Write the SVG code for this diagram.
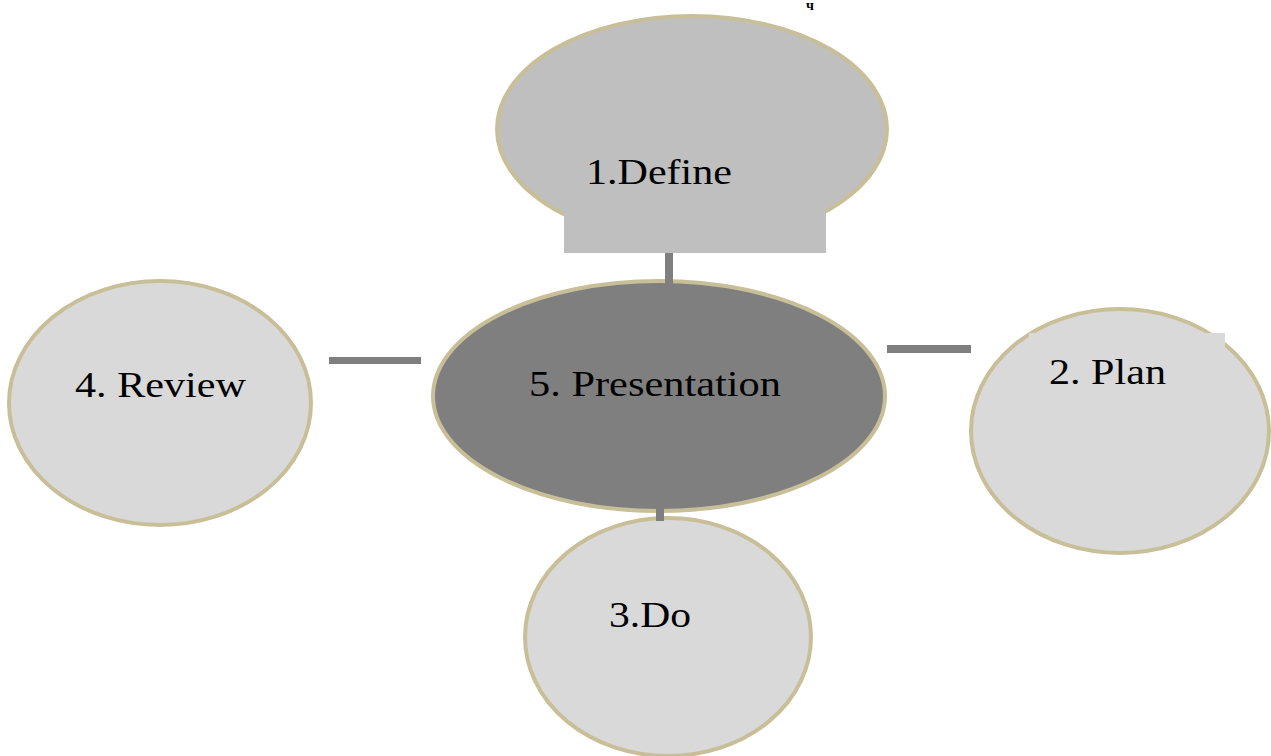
<svg xmlns="http://www.w3.org/2000/svg" width="1271" height="756" viewBox="0 0 1271 756">
  <style>
    .node { stroke: #c8bf98; stroke-width: 4; }
    .light { fill: #d9d9d9; }
    .mid { fill: #bfbfbf; }
    .dark { fill: #7f7f7f; }
    .label { font-family: 'Times New Roman', Tinos, 'Noto Serif', 'Liberation Serif', 'DejaVu Serif', serif; font-size: 36px; fill: #000000; }
    .link { fill: #7f7f7f; }
  </style>
  <rect width="1271" height="756" fill="#ffffff"/>

  <!-- small mark at the top edge -->
  <text x="806" y="10" font-family="'Times New Roman', 'Liberation Serif', serif" font-size="14" font-weight="bold">ч</text>

  <!-- connectors -->
  <g id="connectors">
    <rect class="link" x="665" y="241" width="8" height="44"/>
    <rect class="link" x="329" y="357" width="92" height="7"/>
    <rect class="link" x="887" y="345" width="84" height="8"/>
    <rect class="link" x="656" y="505" width="8" height="16"/>
  </g>

  <g id="node-define">
    <ellipse class="node mid" cx="692" cy="129" rx="195" ry="113"/>
    <rect class="mid" x="564" y="200" width="262" height="53"/>
    <text class="label" x="586" y="184" textLength="146" lengthAdjust="spacingAndGlyphs">1.Define</text>
  </g>

  <g id="node-review">
    <ellipse class="node light" cx="160" cy="403" rx="151" ry="122"/>
    <text class="label" x="75" y="397" textLength="171" lengthAdjust="spacingAndGlyphs">4. Review</text>
  </g>

  <g id="node-plan">
    <ellipse class="node light" cx="1120" cy="431" rx="149" ry="122"/>
    <rect class="light" x="1029" y="333" width="196" height="30"/>
    <text class="label" x="1049" y="384" textLength="117" lengthAdjust="spacingAndGlyphs">2. Plan</text>
  </g>

  <g id="node-do">
    <ellipse class="node light" cx="668" cy="637" rx="143" ry="119"/>
    <text class="label" x="609" y="627" textLength="82" lengthAdjust="spacingAndGlyphs">3.Do</text>
  </g>

  <g id="node-presentation">
    <ellipse class="node dark" cx="659" cy="396" rx="226" ry="115"/>
    <text class="label" x="529" y="396" textLength="252" lengthAdjust="spacingAndGlyphs">5. Presentation</text>
  </g>

  <!-- connector stubs drawn over the central node's rim -->
  <rect class="link" x="665" y="270" width="8" height="14"/>
  <rect class="link" x="656" y="505" width="8" height="16"/>
</svg>
